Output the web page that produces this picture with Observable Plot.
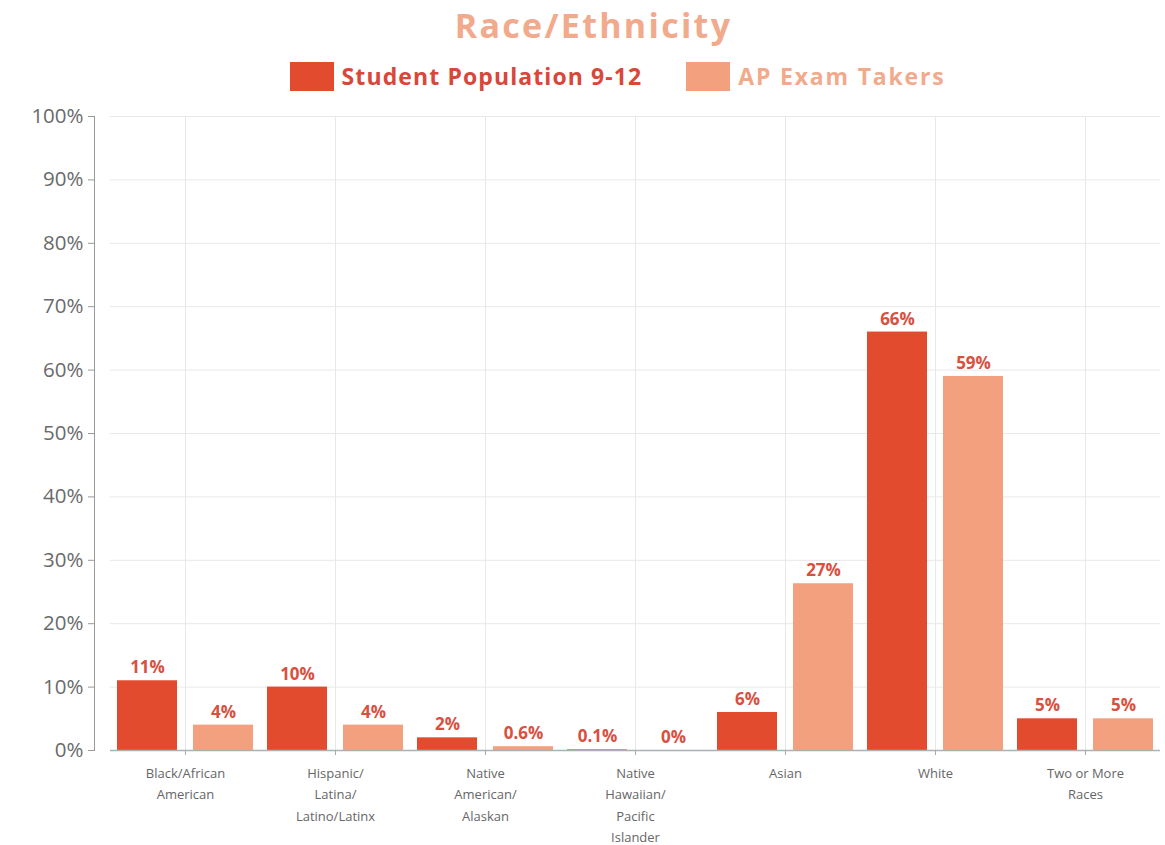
<!DOCTYPE html>
<html>
<head>
<meta charset="utf-8">
<script src="https://cdn.jsdelivr.net/npm/d3@7"></script>
<script src="https://cdn.jsdelivr.net/npm/@observablehq/plot@0.6"></script>
<style>
  body { margin: 0; background: #fff; font-family: "Open Sans", sans-serif; }
  #wrap { width: 1165px; }
  h1 { margin: 0; height: 52px; line-height: 50px; text-align: center; font-size: 34px; font-weight: 700; color: #f2aa8c; letter-spacing: 2.3px; padding-left: 22px; }
  .legend { display: flex; justify-content: center; align-items: center; height: 48px; padding-left: 70px; }
  .item { display: flex; align-items: center; margin: 0 22px; font-size: 23px; font-weight: 700; letter-spacing: 1.1px; }
  .item:last-child { letter-spacing: 1.8px; }
  .sw { width: 44px; height: 29px; margin-right: 8px; }
</style>
</head>
<body>
<div id="wrap">
  <h1>Race/Ethnicity</h1>
  <div class="legend" id="legend"></div>
  <div id="chart"></div>
</div>
<script>
const categories = [
  "Black/African\nAmerican",
  "Hispanic/\nLatina/\nLatino/Latinx",
  "Native\nAmerican/\nAlaskan",
  "Native\nHawaiian/\nPacific\nIslander",
  "Asian",
  "White",
  "Two or More\nRaces"
];
const series = ["Student Population 9-12", "AP Exam Takers"];
const studentPop = [11, 10, 2, 0.1, 6, 66, 5];
const apTakers = [4, 4, 0.6, 0, 26.3, 59, 5];
const studentLabels = ["11%", "10%", "2%", "0.1%", "6%", "66%", "5%"];
const apLabels = ["4%", "4%", "0.6%", "0%", "27%", "59%", "5%"];
const yTicks = [0, 10, 20, 30, 40, 50, 60, 70, 80, 90, 100];
const colors = ["#e24b2e", "#f2a07e"];
const textColors = ["#d9473a", "#f2aa8c"];

const data = categories.flatMap((c, i) => [
  {cat: c, series: series[0], value: studentPop[i], label: studentLabels[i]},
  {cat: c, series: series[1], value: apTakers[i], label: apLabels[i]}
]);

const legend = document.getElementById("legend");
series.forEach((s, i) => {
  const it = document.createElement("div");
  it.className = "item";
  it.innerHTML = `<span class="sw" style="background:${colors[i]}"></span><span style="color:${textColors[i]}">${s}</span>`;
  legend.appendChild(it);
});

const chart = Plot.plot({
  width: 1165,
  height: 745,
  marginLeft: 92,
  marginRight: 5,
  marginTop: 16,
  marginBottom: 95,
  style: {fontFamily: "Open Sans, sans-serif", background: "#fff"},
  fx: {domain: categories, paddingInner: 0, paddingOuter: 0.053, align: 1, label: null},
  x: {domain: series, paddingInner: 0.21, paddingOuter: 0.09, axis: null},
  y: {domain: [0, 100], label: null},
  color: {domain: series, range: colors},
  marks: [
    Plot.gridY(yTicks, {stroke: "#e8e8e8", strokeOpacity: 1}),
    Plot.gridFx({stroke: "#e8e8e8", strokeOpacity: 1}),
    Plot.barY(data, {fx: "cat", x: "series", y: "value", fill: "series"}),
    Plot.ruleY([0], {stroke: "#aab0b3", strokeWidth: 1.5}),
    Plot.text(data, {fx: "cat", x: "series", y: "value", text: "label", dy: -13, fill: "#d9503f", fontWeight: 700, fontSize: 17, letterSpacing: 0.8}),
    Plot.axisY(yTicks, {tickFormat: d => d + "%", fontSize: 20.5, letterSpacing: 2, fill: "#6a6a6a", stroke: "#999", tickSize: 6, tickPadding: 5, dx: -16, label: null}),
    Plot.frame({anchor: "left", facetAnchor: "left", dx: -16, stroke: "#999"}),
    Plot.axisFx({anchor: "bottom", fontSize: 13, lineHeight: 1.65, letterSpacing: 1.2, fill: "#666", stroke: "#aaa", tickSize: 5, tickPadding: 7, label: null})
  ]
});
document.getElementById("chart").appendChild(chart);
</script>
</body>
</html>
